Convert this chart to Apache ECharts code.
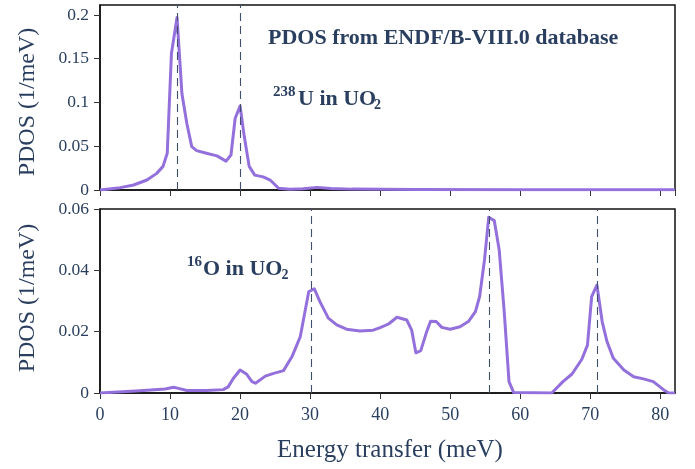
<!DOCTYPE html>
<html>
<head>
<meta charset="utf-8">
<script src="https://cdn.jsdelivr.net/npm/echarts@6/dist/echarts.min.js"></script>
<style>
html,body{margin:0;padding:0;background:#fff;}
#chart{width:695px;height:469px;}
</style>
</head>
<body>
<div id="chart"></div>
<script>
// ---- data ----
const uEnergy = [0, 2.9, 4.8, 6.7, 8.1, 9.0, 9.6, 10.2, 11.0, 11.7, 12.4, 13.1, 13.8, 15.2, 16.7, 18.0, 18.7, 19.3, 20.0, 20.6, 21.3, 22.1, 23.3, 24.3, 25.5, 27.1, 29.0, 31.0, 33.0, 36.0, 45.0, 60.0, 70.0, 82.1];
const uPdos = [0, 0.0027, 0.0057, 0.0114, 0.019, 0.027, 0.042, 0.156, 0.197, 0.110, 0.076, 0.0495, 0.045, 0.042, 0.039, 0.033, 0.040, 0.082, 0.096, 0.061, 0.027, 0.017, 0.015, 0.0114, 0.002, 0.0008, 0.0015, 0.003, 0.0018, 0.001, 0.0006, 0.0004, 0.0003, 0.0002];
const oEnergy = [0, 5.7, 9.3, 10.5, 11.2, 12.4, 15.2, 17.6, 18.3, 19.05, 20.0, 20.9, 21.7, 22.2, 23.6, 24.8, 26.2, 27.4, 28.6, 29.8, 30.6, 31.4, 32.6, 33.8, 35.2, 37.1, 39.0, 40.0, 41.2, 42.4, 43.8, 44.5, 45.1, 45.8, 46.6, 47.2, 48.0, 48.8, 50.0, 51.4, 52.6, 53.6, 54.2, 54.9, 55.5, 56.3, 57.0, 57.7, 58.4, 59.05, 64.5, 66.1, 67.4, 68.8, 69.6, 70.2, 70.95, 71.7, 72.4, 73.3, 74.8, 76.2, 77.6, 79.0, 80.5, 81.2, 82.1];
const oPdos = [0, 0.0007, 0.0013, 0.0019, 0.0015, 0.0008, 0.0008, 0.0011, 0.002, 0.0048, 0.0075, 0.0062, 0.0037, 0.0032, 0.0055, 0.0064, 0.0073, 0.0118, 0.0184, 0.033, 0.034, 0.0298, 0.0244, 0.0222, 0.0208, 0.0202, 0.0205, 0.0213, 0.0225, 0.0247, 0.0238, 0.0205, 0.0131, 0.0138, 0.0197, 0.0234, 0.0233, 0.0214, 0.0208, 0.0216, 0.0233, 0.0265, 0.0314, 0.0434, 0.0573, 0.0562, 0.0466, 0.027, 0.0037, 0.0002, 0, 0.0037, 0.0062, 0.011, 0.0156, 0.0314, 0.0352, 0.0233, 0.0167, 0.0113, 0.0075, 0.0053, 0.0046, 0.0037, 0.001, 0, 0];
const uPeaks = [11.05, 20.0];
const oPeaks = [30.15, 55.6, 70.95];
const xTicks = [0, 10, 20, 30, 40, 50, 60, 70, 80];
const uTicks = [0, 0.05, 0.1, 0.15, 0.2];
const oTicks = [0, 0.02, 0.04, 0.06];
const xTitle = 'Energy transfer (meV)';
const yTitle = 'PDOS (1/meV)';
const headline = 'PDOS from ENDF/B-VIII.0 database';

// ---- chart ----
const TXT = '#2a3f5f';
const LINE = '#9370db';
const SERIF = '"Liberation Serif", "Times New Roman", serif';
const chart = echarts.init(document.getElementById('chart'), null, {renderer: 'canvas'});

function pairs(xs, ys) { return xs.map((x, i) => [x, ys[i]]); }

function xAxis(gi, showLabels) {
  return {
    type: 'value', gridIndex: gi, min: xTicks[0], max: 82.1, interval: xTicks[1] - xTicks[0],
    axisLine: {show: true, lineStyle: {color: '#111', width: 1.5}},
    axisTick: {show: true, length: 6, lineStyle: {color: '#333', width: 1}},
    axisLabel: {show: showLabels, showMaxLabel: false, color: TXT, fontFamily: SERIF, fontSize: 18, margin: 13},
    splitLine: {show: false}
  };
}
function yAxis(gi, ticks, max) {
  const top = ticks[ticks.length - 1];
  return {
    type: 'value', gridIndex: gi, min: ticks[0], max: max, interval: ticks[1] - ticks[0],
    axisLine: {show: true, lineStyle: {color: '#111', width: 1.5}},
    axisTick: {show: true, length: 6, lineStyle: {color: '#333', width: 1}},
    axisLabel: {show: true, showMaxLabel: max === top,
      color: TXT, fontFamily: SERIF, fontSize: 17.5, margin: 11},
    splitLine: {show: false}
  };
}
function peakLines(xs) {
  return {
    silent: true, symbol: 'none', label: {show: false},
    lineStyle: {color: '#3f4f6c', type: [8, 5], width: 1.1},
    data: xs.map(x => ({xAxis: x}))
  };
}

const option = {
  backgroundColor: '#fff',
  animation: false,
  grid: [
    {left: 100, right: 20, top: 5, height: 185, show: true, borderColor: '#111', borderWidth: 1.5, backgroundColor: 'transparent'},
    {left: 100, right: 20, top: 209, height: 184, show: true, borderColor: '#111', borderWidth: 1.5, backgroundColor: 'transparent'}
  ],
  xAxis: [xAxis(0, false), xAxis(1, true)],
  yAxis: [yAxis(0, uTicks, 0.2114), yAxis(1, oTicks, 0.06)],
  series: [
    {type: 'line', xAxisIndex: 0, yAxisIndex: 0, data: pairs(uEnergy, uPdos), showSymbol: false,
     lineStyle: {color: LINE, width: 3, join: 'round'}, itemStyle: {color: LINE}, markLine: peakLines(uPeaks), z: 3},
    {type: 'line', xAxisIndex: 1, yAxisIndex: 1, data: pairs(oEnergy, oPdos), showSymbol: false,
     lineStyle: {color: LINE, width: 3, join: 'round'}, itemStyle: {color: LINE}, markLine: peakLines(oPeaks), z: 3}
  ],
  graphic: [
    {type: 'text', x: 27.5, y: 102, rotation: Math.PI / 2,
     style: {text: yTitle, fill: TXT, font: '24px ' + SERIF, textAlign: 'center', textVerticalAlign: 'middle'}},
    {type: 'text', x: 27.5, y: 298, rotation: Math.PI / 2,
     style: {text: yTitle, fill: TXT, font: '24px ' + SERIF, textAlign: 'center', textVerticalAlign: 'middle'}},
    {type: 'text', x: 390, y: 450,
     style: {text: xTitle, fill: TXT, font: '25px ' + SERIF, textAlign: 'center', textVerticalAlign: 'middle'}},
    {type: 'text', x: 268, y: 38,
     style: {text: headline, fill: TXT, font: 'bold 22px ' + SERIF, textAlign: 'left', textVerticalAlign: 'middle'}},
    {type: 'text', x: 273, y: 92.5,
     style: {text: '238', fill: TXT, font: 'bold 15px ' + SERIF, textAlign: 'left', textVerticalAlign: 'middle'}},
    {type: 'text', x: 298, y: 99.5,
     style: {text: 'U in UO', fill: TXT, font: 'bold 22px ' + SERIF, textAlign: 'left', textVerticalAlign: 'middle'}},
    {type: 'text', x: 374, y: 105,
     style: {text: '2', fill: TXT, font: 'bold 14px ' + SERIF, textAlign: 'left', textVerticalAlign: 'middle'}},
    {type: 'text', x: 187, y: 262,
     style: {text: '16', fill: TXT, font: 'bold 15px ' + SERIF, textAlign: 'left', textVerticalAlign: 'middle'}},
    {type: 'text', x: 203, y: 269.5,
     style: {text: 'O in UO', fill: TXT, font: 'bold 22px ' + SERIF, textAlign: 'left', textVerticalAlign: 'middle'}},
    {type: 'text', x: 281.5, y: 275.5,
     style: {text: '2', fill: TXT, font: 'bold 14px ' + SERIF, textAlign: 'left', textVerticalAlign: 'middle'}}
  ]
};
chart.setOption(option);
</script>
</body>
</html>
